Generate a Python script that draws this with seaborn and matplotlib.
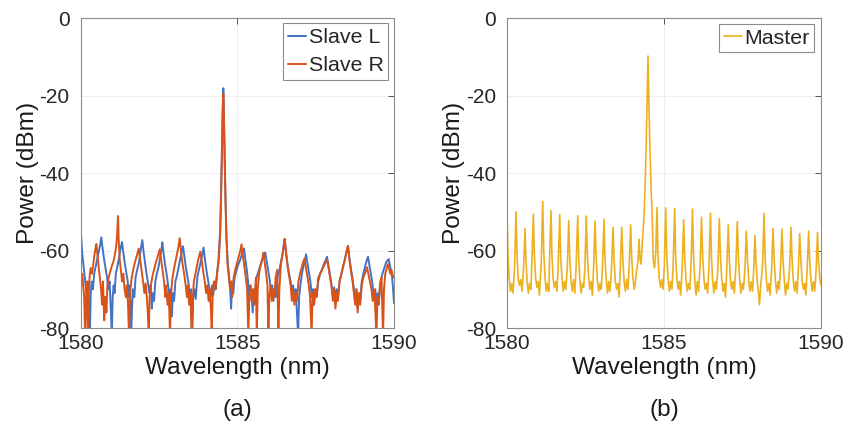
import matplotlib
matplotlib.use('Agg')
import matplotlib.pyplot as plt
import pandas as pd
import seaborn as sns

# spectra as (wavelength nm, power dBm) vertices
slave_l = [
    (1580.00, -55.6), (1580.02, -57), (1580.05, -61), (1580.09, -64), (1580.13, -67), (1580.17, -70),
    (1580.20, -74), (1580.23, -68), (1580.26, -76), (1580.29, -82), (1580.32, -71), (1580.35, -68),
    (1580.39, -70), (1580.43, -66), (1580.48, -64), (1580.53, -62), (1580.58, -60), (1580.62, -58.5),
    (1580.657, -56.6), (1580.69, -59), (1580.74, -62), (1580.79, -64.5), (1580.84, -67), (1580.88, -70),
    (1580.92, -68), (1580.96, -75), (1580.99, -82), (1581.02, -72), (1581.05, -69), (1581.08, -71),
    (1581.12, -66), (1581.17, -64), (1581.22, -62), (1581.27, -59.5),
    (1581.318, -57.8), (1581.35, -60), (1581.40, -63), (1581.45, -65.5), (1581.50, -68), (1581.54, -72),
    (1581.57, -69), (1581.61, -82), (1581.64, -74), (1581.67, -70), (1581.71, -72), (1581.75, -67),
    (1581.80, -65), (1581.86, -63), (1581.91, -60),
    (1581.966, -57.3), (1582.00, -60), (1582.05, -63), (1582.10, -66), (1582.15, -68.5), (1582.19, -71),
    (1582.23, -69), (1582.27, -75), (1582.30, -71), (1582.34, -73), (1582.38, -68), (1582.43, -66),
    (1582.49, -64), (1582.54, -61.5), (1582.58, -59.5),
    (1582.604, -57.9), (1582.64, -60.5), (1582.69, -63.5), (1582.74, -66), (1582.79, -69), (1582.83, -72),
    (1582.87, -70), (1582.91, -77), (1582.94, -71), (1582.98, -73), (1583.02, -68), (1583.07, -66.5),
    (1583.13, -64), (1583.18, -62), (1583.23, -60),
    (1583.265, -58.9), (1583.30, -61), (1583.35, -64), (1583.40, -66.5), (1583.45, -69), (1583.49, -73),
    (1583.52, -70), (1583.56, -82), (1583.59, -72), (1583.63, -70), (1583.67, -72.5), (1583.72, -67),
    (1583.77, -65), (1583.83, -63), (1583.88, -61),
    (1583.920, -59.2), (1583.96, -62), (1584.01, -65), (1584.06, -67.5), (1584.11, -70), (1584.15, -72),
    (1584.19, -69), (1584.23, -71.5), (1584.27, -68), (1584.31, -70), (1584.35, -66),
    (1584.40, -62), (1584.45, -55), (1584.48, -45), (1584.51, -32), (1584.535, -22), (1584.551, -18.1),
    (1584.565, -22), (1584.59, -34), (1584.62, -46), (1584.65, -56), (1584.69, -63), (1584.73, -66),
    (1584.77, -70), (1584.80, -75), (1584.83, -68), (1584.87, -71), (1584.91, -67), (1584.96, -65.5),
    (1585.01, -64), (1585.06, -63), (1585.11, -62), (1585.16, -60.5),
    (1585.212, -59.5), (1585.25, -62), (1585.30, -65), (1585.34, -68), (1585.38, -73), (1585.41, -69),
    (1585.45, -71), (1585.49, -76), (1585.52, -70), (1585.56, -72), (1585.61, -67), (1585.67, -65.5),
    (1585.73, -64), (1585.79, -62.5), (1585.85, -61.5),
    (1585.890, -60.5), (1585.93, -62.5), (1585.98, -65), (1586.03, -67.5), (1586.08, -71), (1586.11, -69),
    (1586.15, -73), (1586.19, -70), (1586.23, -72), (1586.28, -67), (1586.33, -65.5), (1586.39, -63),
    (1586.44, -61), (1586.48, -58.5),
    (1586.511, -57.0), (1586.55, -60), (1586.60, -63.5), (1586.65, -66), (1586.70, -68), (1586.74, -71),
    (1586.78, -69), (1586.82, -73), (1586.86, -70), (1586.90, -76), (1586.94, -82), (1586.97, -72),
    (1587.01, -69), (1587.06, -66), (1587.11, -64), (1587.16, -62.5),
    (1587.191, -61.0), (1587.23, -63), (1587.28, -65.5), (1587.33, -68), (1587.38, -72), (1587.41, -70),
    (1587.45, -74), (1587.49, -70), (1587.53, -72), (1587.58, -68), (1587.64, -66), (1587.70, -65),
    (1587.76, -63.5), (1587.82, -62.5),
    (1587.861, -61.6), (1587.90, -63.5), (1587.95, -66), (1588.00, -68.5), (1588.05, -72), (1588.09, -69.5),
    (1588.13, -74), (1588.17, -70), (1588.21, -72), (1588.26, -68), (1588.32, -66), (1588.38, -64),
    (1588.44, -62), (1588.49, -60),
    (1588.531, -58.8), (1588.57, -61.5), (1588.62, -64.5), (1588.67, -67), (1588.72, -70), (1588.76, -73),
    (1588.80, -70), (1588.84, -75), (1588.88, -71), (1588.92, -73), (1588.97, -68), (1589.02, -66),
    (1589.08, -64), (1589.13, -62.5),
    (1589.170, -61.6), (1589.21, -63.5), (1589.26, -66), (1589.31, -68.5), (1589.36, -72), (1589.40, -70),
    (1589.44, -74), (1589.48, -71), (1589.52, -73), (1589.57, -68), (1589.63, -66), (1589.69, -64.5),
    (1589.75, -63), (1589.80, -62.5),
    (1589.831, -62.2), (1589.86, -63.5), (1589.90, -65), (1589.94, -67), (1589.97, -70), (1590.00, -73.6),
]

slave_r = [
    (1580.00, -72), (1580.02, -68), (1580.05, -66), (1580.08, -69), (1580.11, -72), (1580.14, -82),
    (1580.17, -73), (1580.20, -68), (1580.23, -82), (1580.26, -70), (1580.29, -66), (1580.32, -64.5),
    (1580.36, -66), (1580.40, -63.5), (1580.44, -61), (1580.47, -59.5),
    (1580.498, -58.3), (1580.53, -61), (1580.57, -64), (1580.61, -67), (1580.65, -70), (1580.68, -74),
    (1580.71, -68), (1580.75, -78), (1580.78, -72), (1580.82, -76), (1580.85, -69), (1580.89, -67),
    (1580.94, -65.5), (1580.99, -64), (1581.04, -63), (1581.09, -61), (1581.13, -59), (1581.16, -56),
    (1581.191, -51.1), (1581.21, -57), (1581.24, -62), (1581.28, -65), (1581.32, -68), (1581.36, -66),
    (1581.40, -70), (1581.44, -72), (1581.47, -69), (1581.51, -74), (1581.54, -82), (1581.57, -72),
    (1581.61, -68), (1581.65, -66), (1581.70, -64), (1581.75, -62.5), (1581.80, -61),
    (1581.851, -59.5), (1581.89, -62), (1581.94, -65), (1581.99, -68), (1582.03, -71), (1582.07, -68.5),
    (1582.11, -72), (1582.14, -76), (1582.17, -82), (1582.20, -72), (1582.24, -69), (1582.29, -66.5),
    (1582.34, -65), (1582.40, -63), (1582.46, -61.5),
    (1582.522, -59.7), (1582.56, -62), (1582.61, -65), (1582.66, -68), (1582.70, -72), (1582.73, -69),
    (1582.77, -74), (1582.81, -71), (1582.85, -82), (1582.88, -72), (1582.92, -67.5), (1582.97, -65),
    (1583.02, -63), (1583.07, -61), (1583.12, -59),
    (1583.160, -56.8), (1583.20, -60), (1583.25, -63.5), (1583.30, -66), (1583.35, -69), (1583.39, -72),
    (1583.42, -69), (1583.46, -74), (1583.50, -71), (1583.54, -82), (1583.57, -73), (1583.61, -68),
    (1583.66, -66), (1583.71, -64), (1583.76, -62),
    (1583.817, -60.3), (1583.86, -62.5), (1583.91, -65.5), (1583.96, -68), (1584.00, -71), (1584.04, -69),
    (1584.08, -73), (1584.12, -70), (1584.16, -76), (1584.18, -82), (1584.21, -72), (1584.25, -68),
    (1584.30, -70), (1584.35, -66),
    (1584.40, -63), (1584.45, -56), (1584.48, -46), (1584.51, -33), (1584.535, -23), (1584.551, -19.6),
    (1584.565, -23), (1584.59, -35), (1584.62, -47), (1584.65, -57), (1584.69, -64), (1584.73, -67),
    (1584.77, -70), (1584.80, -68), (1584.84, -72), (1584.88, -67), (1584.93, -65), (1584.98, -63.5),
    (1585.03, -62), (1585.08, -60.5),
    (1585.133, -58.4), (1585.17, -61), (1585.22, -64), (1585.27, -67), (1585.31, -70), (1585.35, -82),
    (1585.38, -72), (1585.42, -69), (1585.46, -73), (1585.50, -70), (1585.54, -74), (1585.59, -67),
    (1585.62, -82), (1585.65, -70), (1585.70, -65.5), (1585.75, -63.5), (1585.80, -62),
    (1585.830, -60.6), (1585.87, -63), (1585.92, -66), (1585.96, -69), (1585.99, -82), (1586.02, -72),
    (1586.06, -69), (1586.10, -73), (1586.14, -70), (1586.18, -72), (1586.22, -67), (1586.27, -65),
    (1586.31, -82), (1586.34, -70), (1586.39, -63.5), (1586.44, -61), (1586.48, -59),
    (1586.511, -57.0), (1586.55, -60.5), (1586.60, -64), (1586.65, -66.5), (1586.70, -69), (1586.74, -73),
    (1586.78, -70), (1586.82, -74), (1586.86, -71), (1586.90, -73), (1586.95, -68), (1587.00, -66),
    (1587.05, -64.5), (1587.10, -63),
    (1587.143, -62.0), (1587.18, -64), (1587.23, -66.5), (1587.28, -69), (1587.32, -72), (1587.37, -82),
    (1587.40, -71), (1587.44, -74), (1587.48, -70), (1587.53, -72), (1587.58, -67), (1587.64, -66),
    (1587.70, -65), (1587.76, -64), (1587.82, -63),
    (1587.861, -62.4), (1587.90, -64), (1587.95, -66.5), (1588.00, -69), (1588.05, -73), (1588.09, -70),
    (1588.13, -75), (1588.17, -71), (1588.21, -73), (1588.26, -68), (1588.32, -66), (1588.38, -64),
    (1588.44, -62), (1588.49, -60),
    (1588.531, -58.8), (1588.57, -62), (1588.62, -65), (1588.67, -67.5), (1588.72, -71), (1588.76, -74),
    (1588.80, -70), (1588.84, -76), (1588.88, -71), (1588.92, -74), (1588.97, -69), (1589.02, -67),
    (1589.07, -66), (1589.11, -65),
    (1589.138, -64.3), (1589.18, -66), (1589.23, -68), (1589.28, -70), (1589.32, -73), (1589.36, -70),
    (1589.40, -75), (1589.44, -82), (1589.47, -72), (1589.51, -74), (1589.55, -69), (1589.60, -67),
    (1589.65, -82), (1589.68, -70), (1589.72, -66), (1589.77, -64.5),
    (1589.808, -63.5), (1589.84, -64.5), (1589.88, -66), (1589.92, -65), (1589.96, -66.5), (1590.00, -67),
]

master = [
    (1580.00, -50.4), (1580.03, -61), (1580.07, -67.5), (1580.11, -70.5), (1580.15, -68.5), (1580.19, -71),
    (1580.24, -64.5), (1580.287, -50.0), (1580.32, -61.5), (1580.36, -67.5), (1580.40, -69), (1580.44, -67.5), (1580.48, -70.5),
    (1580.53, -64), (1580.573, -54.3), (1580.60, -62), (1580.64, -68), (1580.68, -71), (1580.72, -68.5), (1580.76, -70),
    (1580.79, -63.5), (1580.838, -50.6), (1580.87, -61), (1580.91, -67), (1580.95, -69.5), (1580.99, -68), (1581.03, -71.5),
    (1581.09, -63), (1581.137, -47.3), (1581.17, -60.5), (1581.21, -67), (1581.25, -70.5), (1581.29, -68.5), (1581.33, -70.5),
    (1581.35, -64), (1581.401, -49.7), (1581.43, -61), (1581.47, -67.5), (1581.51, -69.5), (1581.55, -68), (1581.59, -70.5),
    (1581.63, -64), (1581.678, -50.7), (1581.71, -61.5), (1581.75, -67), (1581.79, -70.5), (1581.83, -68), (1581.87, -70),
    (1581.92, -64.5), (1581.965, -52.3), (1582.00, -62), (1582.04, -68), (1582.08, -70.5), (1582.12, -67.5), (1582.16, -71),
    (1582.20, -64), (1582.252, -51.0), (1582.28, -61.5), (1582.32, -67.5), (1582.36, -71), (1582.40, -68.5), (1582.44, -69.5),
    (1582.48, -64.5), (1582.525, -51.1), (1582.56, -61.5), (1582.60, -67), (1582.64, -70), (1582.68, -68), (1582.72, -71.5),
    (1582.76, -64), (1582.803, -52.4), (1582.84, -62), (1582.88, -68), (1582.92, -70.5), (1582.96, -68.5), (1583.00, -70),
    (1583.04, -64), (1583.089, -51.9), (1583.12, -62), (1583.16, -67.5), (1583.20, -71), (1583.24, -68), (1583.28, -70.5),
    (1583.33, -64.5), (1583.376, -54.0), (1583.41, -62.5), (1583.45, -68), (1583.49, -70), (1583.53, -68.5), (1583.57, -72),
    (1583.61, -64), (1583.653, -54.0), (1583.69, -62.5), (1583.73, -68), (1583.77, -70.5), (1583.81, -67.5), (1583.85, -70),
    (1583.89, -64), (1583.939, -53.4), (1583.97, -62), (1584.01, -67), (1584.05, -70), (1584.09, -68), (1584.13, -65),
    (1584.17, -63), (1584.204, -57.1), (1584.24, -62.5), (1584.27, -63.5),
    (1584.32, -56.5), (1584.37, -50.5), (1584.41, -40), (1584.44, -30), (1584.47, -18), (1584.49, -9.8),
    (1584.51, -18), (1584.54, -30), (1584.58, -42), (1584.62, -50), (1584.66, -63), (1584.70, -64.5), (1584.74, -60),
    (1584.777, -48.9), (1584.81, -62), (1584.85, -67.5), (1584.89, -69.5), (1584.93, -67.5), (1584.97, -70),
    (1585.01, -64), (1585.054, -49.0), (1585.09, -61.5), (1585.13, -67.5), (1585.17, -70.5), (1585.21, -68), (1585.25, -70),
    (1585.29, -64), (1585.341, -49.1), (1585.37, -61.5), (1585.41, -67), (1585.45, -70), (1585.49, -68), (1585.53, -71.5),
    (1585.58, -64.5), (1585.627, -52.1), (1585.66, -62), (1585.70, -67.5), (1585.74, -70.5), (1585.78, -68.5), (1585.82, -70),
    (1585.86, -64), (1585.908, -49.3), (1585.94, -61.5), (1585.98, -67.5), (1586.02, -71.5), (1586.06, -68), (1586.10, -70.5),
    (1586.15, -64), (1586.194, -51.4), (1586.23, -61.5), (1586.27, -67), (1586.31, -70), (1586.35, -68.5), (1586.39, -71),
    (1586.43, -64.5), (1586.481, -50.4), (1586.51, -61.5), (1586.55, -68), (1586.59, -71), (1586.63, -68), (1586.67, -70),
    (1586.72, -64), (1586.761, -51.8), (1586.80, -62), (1586.84, -67.5), (1586.88, -70.5), (1586.92, -68.5), (1586.96, -72),
    (1587.00, -64.5), (1587.048, -53.4), (1587.08, -62), (1587.12, -68), (1587.16, -70), (1587.20, -68), (1587.24, -71),
    (1587.29, -64), (1587.334, -52.5), (1587.37, -62), (1587.41, -67.5), (1587.45, -71), (1587.49, -68.5), (1587.53, -70),
    (1587.58, -64.5), (1587.621, -55.0), (1587.66, -62.5), (1587.70, -68), (1587.74, -70.5), (1587.78, -68), (1587.82, -70.5),
    (1587.86, -64.5), (1587.898, -56.1), (1587.93, -63), (1587.97, -68), (1588.01, -71), (1588.04, -74), (1588.08, -69),
    (1588.14, -64), (1588.185, -50.4), (1588.22, -61.5), (1588.26, -67.5), (1588.30, -70.5), (1588.34, -68.5), (1588.38, -71.5),
    (1588.43, -64.5), (1588.471, -54.3), (1588.51, -62.5), (1588.55, -68), (1588.59, -71), (1588.63, -68), (1588.67, -70),
    (1588.71, -64.5), (1588.758, -54.5), (1588.79, -62.5), (1588.83, -67.5), (1588.87, -71.5), (1588.91, -68.5), (1588.95, -70),
    (1589.00, -64.5), (1589.045, -54.0), (1589.08, -62.5), (1589.12, -68), (1589.16, -70.5), (1589.20, -68), (1589.24, -71),
    (1589.28, -64.5), (1589.322, -55.6), (1589.36, -62.5), (1589.40, -68), (1589.44, -70), (1589.48, -68.5), (1589.52, -71.5),
    (1589.56, -64.5), (1589.608, -55.0), (1589.64, -62.5), (1589.68, -67.5), (1589.72, -70.5), (1589.76, -68), (1589.80, -70.5),
    (1589.85, -64.5), (1589.889, -55.3), (1589.92, -62.5), (1589.96, -67), (1590.00, -69),
]

wl_ticks = [1580, 1585, 1590]
power_ticks = [-80, -60, -40, -20, 0]

blue = '#4472C4'
red = '#D95319'
yellow = '#EDB120'

sns.set_theme(style='white')
plt.rcParams['font.family'] = ['Liberation Sans', 'DejaVu Sans']
plt.rcParams['axes.unicode_minus'] = False


def to_df(points):
    return pd.DataFrame(points, columns=['Wavelength', 'Power'])


def style_axes(ax):
    ax.set_xlim(1580, 1590)
    ax.set_ylim(-80, 0)
    ax.set_xticks(wl_ticks)
    ax.set_yticks(power_ticks)
    ax.grid(True, color='#ececec', linewidth=0.6)
    ax.set_axisbelow(True)
    ax.tick_params(direction='in', length=4, width=0.7, top=True, right=True,
                   labelsize=15, color='#555555', labelcolor='#262626')
    ax.tick_params(axis='y', pad=8)
    ax.tick_params(axis='x', pad=4.5)
    for s in ax.spines.values():
        s.set_color('#8c8c8c')
        s.set_linewidth(0.8)
    ax.set_xlabel('Wavelength (nm)', fontsize=17.6, color='#1a1a1a')
    ax.set_ylabel('Power (dBm)', fontsize=17.6, color='#1a1a1a')
    ax.yaxis.set_label_coords(-0.133, 0.5)
    ax.xaxis.set_label_coords(0.5, -0.093)


def add_legend(ax, anchor):
    leg = ax.legend(loc='upper right', bbox_to_anchor=anchor, borderaxespad=0,
                    fancybox=False, framealpha=1, edgecolor='#8c8c8c', fontsize=15.4,
                    handlelength=0.85, handletextpad=0.12, borderpad=0.22, labelspacing=0.42)
    leg.get_frame().set_linewidth(0.8)


fig = plt.figure(figsize=(8.49, 4.34), dpi=100)
ax_a = fig.add_axes([0.0951, 0.2442, 0.3690, 0.7143])
ax_b = fig.add_axes([0.5972, 0.2442, 0.3698, 0.7143])

sns.lineplot(data=to_df(slave_l), x='Wavelength', y='Power', ax=ax_a, color=blue,
             linewidth=1.4, label='Slave L', estimator=None, sort=False)
sns.lineplot(data=to_df(slave_r), x='Wavelength', y='Power', ax=ax_a, color=red,
             linewidth=1.4, label='Slave R', estimator=None, sort=False)
sns.lineplot(data=to_df(master), x='Wavelength', y='Power', ax=ax_b, color=yellow,
             linewidth=1.2, label='Master', estimator=None, sort=False)

style_axes(ax_a)
style_axes(ax_b)
add_legend(ax_a, (1 - 5.7 / 313.3, 1 - 5.3 / 310))
add_legend(ax_b, (1 - 6.7 / 314, 1 - 6 / 310))

fig.text(0.2795, 0.055, '(a)', ha='center', va='center', fontsize=17.6, color='#1a1a1a')
fig.text(0.7821, 0.055, '(b)', ha='center', va='center', fontsize=17.6, color='#1a1a1a')

fig.savefig('out.png', dpi=100)
